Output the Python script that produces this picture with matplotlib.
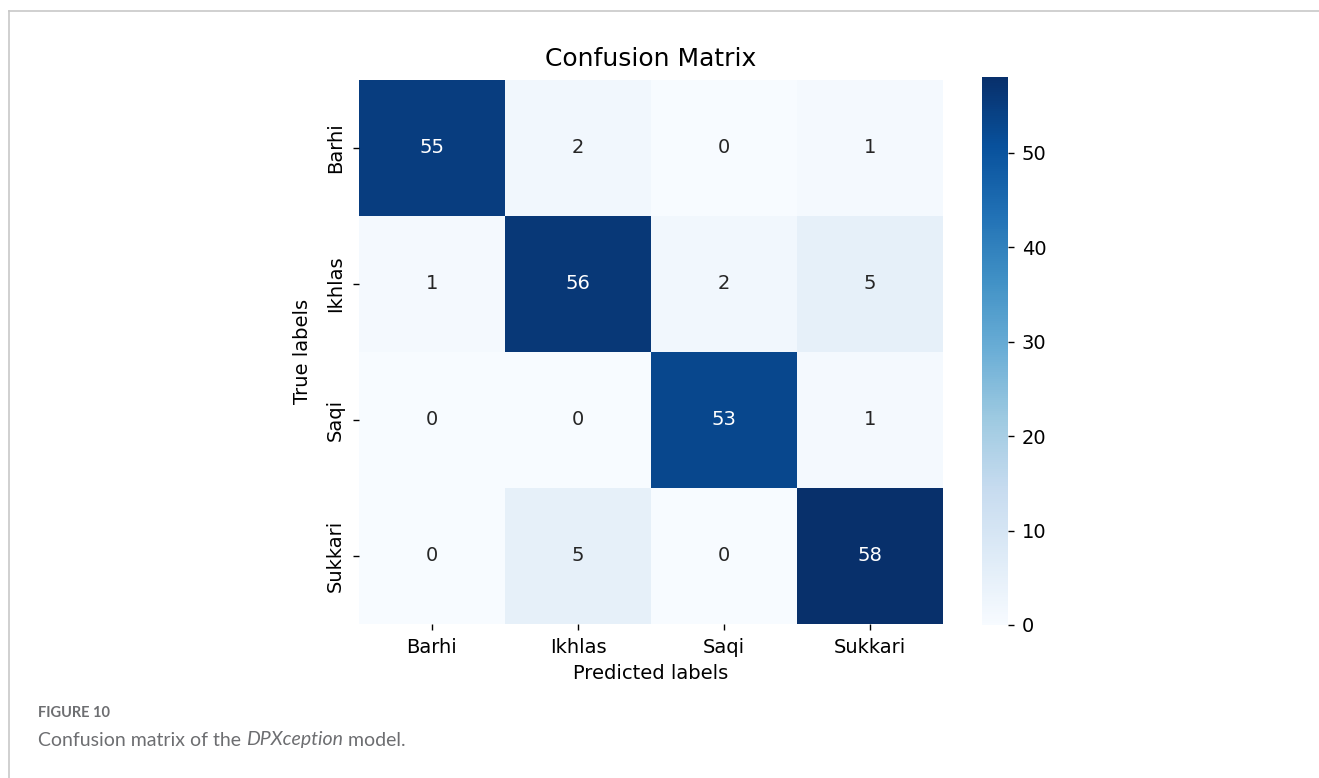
import matplotlib
matplotlib.use("Agg")
import matplotlib.pyplot as plt
import seaborn as sns
import numpy as np
from matplotlib.lines import Line2D

# Datos de la matriz de confusion
classes = ["Barhi", "Ikhlas", "Saqi", "Sukkari"]
row_barhi = [55, 2, 0, 1]
row_ikhlas = [1, 56, 2, 5]
row_saqi = [0, 0, 53, 1]
row_sukkari = [0, 5, 0, 58]
cbar_ticks = [0, 10, 20, 30, 40, 50]

cm = np.array([row_barhi, row_ikhlas, row_saqi, row_sukkari])

W, H = 1319, 778
fig = plt.figure(figsize=(W / 100, H / 100), dpi=100)

ax = fig.add_axes([359 / W, (H - 624) / H, 584 / W, 544.5 / H])
cax = fig.add_axes([982 / W, (H - 625) / H, 26 / W, 548 / H])

sns.heatmap(cm, annot=True, fmt="d", cmap="Blues", ax=ax, cbar_ax=cax,
            xticklabels=classes, yticklabels=classes,
            annot_kws={"size": 14})

ax.set_title("Confusion Matrix", fontsize=18, pad=10)
ax.set_xlabel("Predicted labels", fontsize=14, labelpad=5)
ax.set_ylabel("True labels", fontsize=14, labelpad=10)
ax.tick_params(axis="both", labelsize=14, length=4, width=1, pad=6)
plt.setp(ax.get_yticklabels(), rotation=90, va="center")
plt.setp(ax.get_xticklabels(), rotation=0)

cax.set_yticks(cbar_ticks)
cax.tick_params(labelsize=14, length=4, width=1, pad=6)

# Marco de la figura
frame = "#c8c8c8"
fig.add_artist(Line2D([9 / W, 1], [1 - 11 / H, 1 - 11 / H], color=frame, lw=1.2))
fig.add_artist(Line2D([9 / W, 9 / W], [0, 1 - 11 / H], color=frame, lw=1.2))

# Pie de figura
gray = "#6d6e71"
fig.text(38 / W, 1 - 713 / H, "FIGURE 10", fontsize=10.5, fontweight="bold",
         color=gray, family="Lato", va="center")

parts = [("Confusion matrix of the ", "normal"), ("DPXception", "italic"), (" model.", "normal")]
fig.canvas.draw()
renderer = fig.canvas.get_renderer()
x = 38 / W
for txt, style in parts:
    t = fig.text(x, 1 - 740 / H, txt, fontsize=14, style=style, color=gray,
                 family="Lato", va="center")
    bb = t.get_window_extent(renderer=renderer)
    x = bb.x1 / W

fig.savefig("out.png", dpi=100)
